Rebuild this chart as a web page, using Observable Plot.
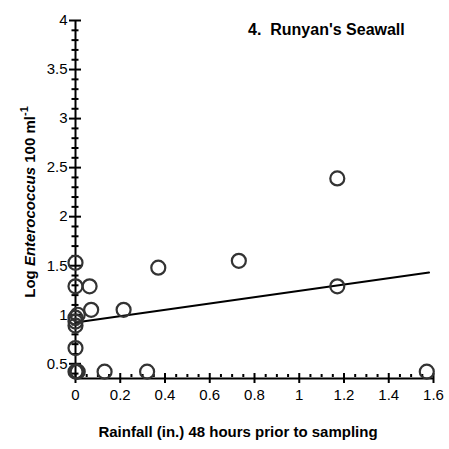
<!DOCTYPE html>
<html>
<head>
<meta charset="utf-8">
<script src="https://cdn.jsdelivr.net/npm/d3@7"></script>
<script src="https://cdn.jsdelivr.net/npm/@observablehq/plot@0.6"></script>
<style>
  html, body { margin: 0; padding: 0; background: #fff; }
  #chart { width: 449px; height: 449px; }
  svg text { font-family: "Liberation Sans", Arial, sans-serif; }
</style>
</head>
<body>
<div id="chart"></div>
<script>
// Data
const rainfall = [0, 0, 0.063, 0, 0.07, 0.215, 0.37, 0.73, 1.17, 1.17, 0, 0.01, 0, 0, 0, 0.01, 0.005, 0.13, 0.32, 1.57];
const logEntero = [1.53, 1.29, 1.29, 0.97, 1.05, 1.05, 1.48, 1.55, 2.39, 1.29, 0.93, 1.0, 0.89, 0.66, 0.42, 0.42, 0.42, 0.42, 0.42, 0.42];
const fitX = [0, 1.58];
const fitY = [0.92, 1.43];
const xMajor = [0, 0.2, 0.4, 0.6, 0.8, 1, 1.2, 1.4, 1.6];
const xMinor = [0.05,0.1,0.15,0.25,0.3,0.35,0.45,0.5,0.55,0.65,0.7,0.75,0.85,0.9,0.95,1.05,1.1,1.15,1.25,1.3,1.35,1.45,1.5,1.55];
const yMajor = [0.5, 1, 1.5, 2, 2.5, 3, 3.5, 4];
const yMinor = [0.4,0.6,0.7,0.8,0.9,1.1,1.2,1.3,1.4,1.6,1.7,1.8,1.9,2.1,2.2,2.3,2.4,2.6,2.7,2.8,2.9,3.1,3.2,3.3,3.4,3.6,3.7,3.8,3.9];
const title = "4.  Runyan's Seawall";
const xTitle = "Rainfall (in.) 48 hours prior to sampling";

const points = rainfall.map((x, i) => ({x, y: logEntero[i]}));
const fit = fitX.map((x, i) => ({x, y: fitY[i]}));
const yMin = 0.35;

const plot = Plot.plot({
  width: 449,
  height: 449,
  marginLeft: 75,
  marginRight: 16,
  marginTop: 20,
  marginBottom: 71,
  style: {fontFamily: "Liberation Sans, Arial, sans-serif", fontSize: "15px", color: "#000", background: "#fff"},
  x: {domain: [0, 1.6], axis: null},
  y: {domain: [yMin, 4], axis: null},
  marks: [
    Plot.axisY({ticks: yMajor, tickSize: 12, dx: 6, tickFormat: () => "", strokeWidth: 2, stroke: "#000", label: null}),
    Plot.axisY({ticks: yMinor, tickSize: 7, dx: 3.5, tickFormat: () => "", strokeWidth: 2, stroke: "#000", label: null}),
    Plot.axisY({ticks: yMajor, tickSize: 0, tickPadding: 8, tickFormat: d => String(d), fontSize: 15, label: null}),
    Plot.axisX({ticks: xMajor, tickSize: 10, dy: -5, tickFormat: () => "", strokeWidth: 2, stroke: "#000", label: null}),
    Plot.axisX({ticks: xMinor, tickSize: 3, dy: -4, tickFormat: () => "", strokeWidth: 2, stroke: "#000", label: null}),
    Plot.axisX({ticks: xMajor, tickSize: 0, tickPadding: 11, tickFormat: d => String(d), fontSize: 15, label: null}),
    Plot.ruleX([0], {y1: yMin, y2: 4, stroke: "#000", strokeWidth: 2}),
    Plot.ruleY([yMin], {x1: 0, x2: 1.6, stroke: "#000", strokeWidth: 2}),
    Plot.line(fit, {x: "x", y: "y", stroke: "#000", strokeWidth: 2}),
    Plot.dot(points, {x: "x", y: "y", r: 7, stroke: "#333", strokeWidth: 2.2, fill: "none"})
  ]
});

document.getElementById("chart").appendChild(plot);

const svg = d3.select(plot);
svg.append("text")
  .attr("x", 248).attr("y", 35)
  .attr("text-anchor", "start")
  .attr("font-size", 16).attr("font-weight", "bold").attr("fill", "#000")
  .attr("xml:space", "preserve").style("white-space", "pre")
  .text(title);

svg.append("text")
  .attr("x", 238).attr("y", 437)
  .attr("text-anchor", "middle")
  .attr("font-size", 15).attr("font-weight", "bold").attr("fill", "#000")
  .text(xTitle);

const yl = svg.append("text")
  .attr("transform", "translate(35,202) rotate(-90)")
  .attr("text-anchor", "middle")
  .attr("font-size", 15).attr("font-weight", "bold").attr("fill", "#000");
yl.append("tspan").text("Log ");
yl.append("tspan").attr("font-style", "italic").text("Enterococcus");
yl.append("tspan").text(" 100 ml");
yl.append("tspan").attr("dy", -7).attr("font-size", 11).text("-1");
</script>
</body>
</html>
